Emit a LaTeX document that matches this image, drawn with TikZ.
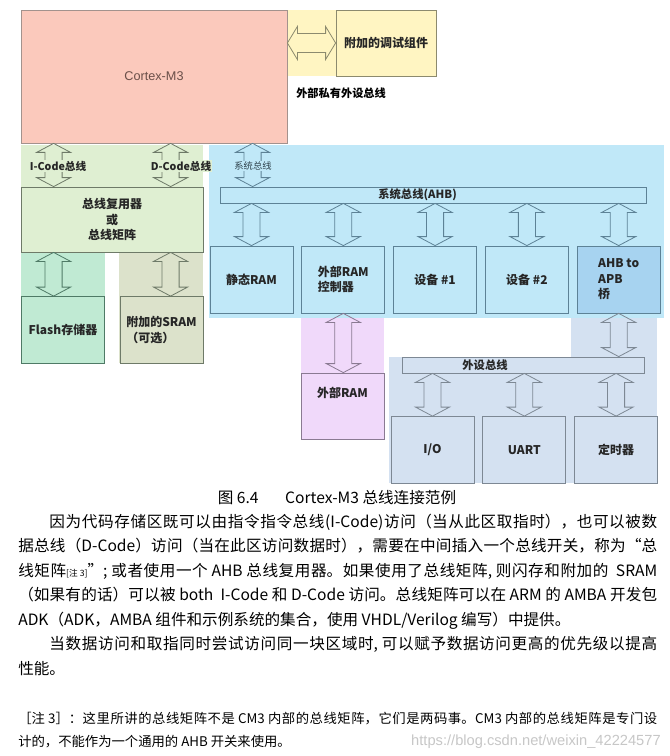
\documentclass[tikz,border=0pt]{standalone}
\usepackage{fontspec}
\setmainfont{Noto Sans CJK SC}
\newfontfamily\arialfont{Liberation Sans}
\XeTeXlinebreaklocale "zh"
\XeTeXlinebreakskip=0pt plus 3pt
\usetikzlibrary{positioning,calc}

\definecolor{cmfill}{HTML}{FBC9BC}
\definecolor{cmedge}{HTML}{A3928D}
\definecolor{cmtext}{HTML}{6A4F49}
\definecolor{dbgfill}{HTML}{FFF5C2}
\definecolor{dbgedge}{HTML}{8C8A6E}
\definecolor{codefill}{HTML}{DFEFD2}
\definecolor{codeedge}{HTML}{6E7A68}
\definecolor{flashfill}{HTML}{C0EAD3}
\definecolor{flashedge}{HTML}{4F7A66}
\definecolor{xsramfill}{HTML}{DCE2CB}
\definecolor{ahbfill}{HTML}{C0E8F8}
\definecolor{ahbedge}{HTML}{5D8296}
\definecolor{brgfill}{HTML}{A7D3F0}
\definecolor{eramfill}{HTML}{F0D9FA}
\definecolor{eramedge}{HTML}{8A7A92}
\definecolor{apbfill}{HTML}{D4E1F1}
\definecolor{apbedge}{HTML}{7D8894}

% block double arrows between two nodes
\newcommand{\vbus}[3][ahbedge]{%
  \draw[busarrow, draw=#1] let \p1=(#2), \p2=(#3) in
    (\x1,\y1) -- (\x1+12.75pt,\y1-6.75pt) -- (\x1+6.4pt,\y1-6.75pt)
    -- (\x1+6.4pt,\y2+6.75pt) -- (\x1+12.75pt,\y2+6.75pt) -- (\x1,\y2)
    -- (\x1-12.75pt,\y2+6.75pt) -- (\x1-6.4pt,\y2+6.75pt)
    -- (\x1-6.4pt,\y1-6.75pt) -- (\x1-12.75pt,\y1-6.75pt) -- cycle;}
\newcommand{\hbus}[3][dbgedge]{%
  \draw[busarrow, draw=#1] let \p1=(#2), \p2=(#3) in
    (\x1,\y1) -- (\x1+7.5pt,\y1+12.4pt) -- (\x1+7.5pt,\y1+7.1pt)
    -- (\x2-7.5pt,\y1+7.1pt) -- (\x2-7.5pt,\y1+12.4pt) -- (\x2,\y1)
    -- (\x2-7.5pt,\y1-12.4pt) -- (\x2-7.5pt,\y1-7.1pt)
    -- (\x1+7.5pt,\y1-7.1pt) -- (\x1+7.5pt,\y1-12.4pt) -- cycle;}

\begin{document}
\begin{tikzpicture}[x=0.75pt, y=-0.75pt,
    unit/.style={rectangle, draw=#1, line width=0.6pt, minimum width=62.25pt, minimum height=50.25pt, inner sep=1pt, align=left, text=black!85, font=\bfseries\fontsize{9}{11.6}\selectfont},
    unit/.default=ahbedge,
    busbar/.style={rectangle, draw=#1, line width=0.6pt, minimum height=12pt, inner sep=0pt},
    barlabel/.style={font=\bfseries\fontsize{8.5}{10}\selectfont, text=black!85},
    buslabel/.style={inner sep=0.6pt, text=black!85},
    busarrow/.style={line width=0.6pt, line join=miter},
    bodytext/.style={inner sep=0pt, text width=479.25pt, align=justify, anchor=base west}
]
    \path[fill=white] (0,0) rectangle (669,756);
    \useasboundingbox (0,0) rectangle (669,756);

    % coloured areas behind the blocks
    \fill[dbgfill] (287,10) rectangle (436,76);
    \fill[codefill] (21,145) rectangle (203,252);
    \fill[flashfill] (21,252) rectangle (105,363);
    \fill[xsramfill] (119,252) rectangle (203,363);
    \fill[ahbfill] (209,145) rectangle (664,318);
    \fill[eramfill] (301,318) rectangle (384,439);
    \fill[apbfill] (571,318) rectangle (657,357);
    \fill[apbfill] (389,357) rectangle (657,483);

    \node[rectangle, draw=cmedge, line width=0.6pt, fill=cmfill, minimum width=199.5pt, minimum height=99.75pt,
          text=cmtext, font=\arialfont\fontsize{9.5}{11}\selectfont] (cm3) at (154,76.5) {Cortex-M3};
    \node[unit=dbgedge, fill=dbgfill, minimum width=75pt, minimum height=49.5pt] (dbg) at (386,43) {附加的调试组件};
    \node[anchor=west, inner sep=0pt, font=\bfseries\fontsize{8.4}{10}\selectfont] (ppb) at (296,93) {外部私有外设总线};

    \node[unit=codeedge, fill=codefill, minimum width=136.5pt, minimum height=48.75pt, align=center] (mux) at (112,219.5) {总线复用器\\或\\总线矩阵};
    \node[unit=flashedge, fill=flashfill] (flash) at (63,330) {Flash存储器};
    \node[unit=codeedge, fill=xsramfill] (xsram) at (161.5,330) {附加的SRAM\\（可选）};

    \node[busbar=ahbedge, fill=ahbfill, minimum width=319.5pt,
          label={[barlabel, xshift=-11.6pt]center:系统总线(AHB)}] (ahb) at (433,195) {};
    \node[unit, fill=ahbfill] (sram) at (251.5,279.5) {静态RAM};
    \node[unit, fill=ahbfill, right=6pt of sram] (emc) {外部RAM\\控制器};
    \node[unit, fill=ahbfill, right=6pt of emc] (dev1) {设备 \#1};
    \node[unit, fill=ahbfill, right=6pt of dev1] (dev2) {设备 \#2};
    \node[unit, fill=brgfill, right=6pt of dev2] (brg) {AHB to\\APB\\桥};

    \node[unit=eramedge, fill=eramfill, minimum height=49.5pt, text height=7pt, text depth=20pt] (eram) at (342.5,406) {外部RAM};

    \node[busbar=apbedge, fill=apbfill, minimum width=181.5pt,
          label={[barlabel, xshift=-28.5pt]center:外设总线}] (apb) at (523,365) {};
    \node[unit=apbedge, fill=apbfill] (io) at (432.5,450) {I/O};
    \node[unit=apbedge, fill=apbfill, right=6pt of io] (uart) {UART};
    \node[unit=apbedge, fill=apbfill, right=6pt of uart] (tmr) {定时器};

    % buses
    \hbus{cm3.east |- dbg.west}{dbg.west}
    \vbus[codeedge]{$(cm3.south west)+(33,0)$}{mux.north}
    \vbus[codeedge]{$(cm3.south west)+(150,0)$}{mux.north}
    \vbus{$(cm3.south west)+(232,0)$}{ahb.north}
    \vbus[flashedge]{$(mux.south west)+(33,0)$}{flash.north}
    \vbus[codeedge]{$(mux.south west)+(150,0)$}{xsram.north}
    \foreach \dst in {sram,emc,dev1,dev2,brg}
        {\vbus{ahb.south -| \dst.north}{\dst.north}}
    \vbus[eramedge]{emc.south}{eram.north}
    \vbus[apbedge]{brg.south}{apb.north}
    \foreach \dst in {io,uart,tmr}
        {\vbus[apbedge]{apb.south -| \dst.north}{\dst.north}}

    \node[buslabel, fill=codefill, font=\bfseries\fontsize{8}{9}\selectfont] (icode) at (58,166) {I-Code总线};
    \node[buslabel, fill=codefill, font=\bfseries\fontsize{8}{9}\selectfont] (dcode) at (181,166) {D-Code总线};
    \node[buslabel, fill=ahbfill, font=\fontsize{7}{8}\selectfont, text=ahbedge!50!black] (sysbus) at (253,166) {系统总线};

    % caption and text below the figure
    \node[anchor=base, inner sep=0pt, font=\fontsize{11.7}{14}\selectfont] (cap) at (337,503) {图 6.4\hspace{1.7em}Cortex-M3 总线连接范例};
    \node[bodytext, font=\fontsize{11.7}{18.4}\selectfont] (para) at (18,527) {%
\hspace*{2em}因为代码存储区既可以由指令指令总线(I-Code)访问（当从此区取指时），也可以被数\linebreak
据总线（D-Code）访问（当在此区访问数据时），需要在中间插入一个总线开关，称为“总\linebreak
线矩阵{\fontsize{6.5}{7}\selectfont [注 3]}”; 或者使用一个 AHB 总线复用器。如果使用了总线矩阵, 则闪存和附加的\ \ SRAM\linebreak
（如果有的话）可以被 both\ \ I-Code 和 D-Code 访问。总线矩阵可以在 ARM 的 AMBA 开发包\linebreak
ADK（ADK，AMBA 组件和示例系统的集合，使用 VHDL/Verilog 编写）中提供。\par
\hspace*{2em}当数据访问和取指同时尝试访问同一块区域时, 可以赋予数据访问更高的优先级以提高\linebreak
性能。};
    \node[bodytext, font=\fontsize{10}{17.25}\selectfont] (note) at (18,723) {%
［注 3］：这里所讲的总线矩阵不是 CM3 内部的总线矩阵，它们是两码事。CM3 内部的总线矩阵是专门设\linebreak
计的，不能作为一个通用的 AHB 开关来使用。};
    \node[anchor=base east, inner sep=0pt, text=black!22, font=\arialfont\fontsize{11}{13}\selectfont] (mark) at (661,745) {https://blog.csdn.net/weixin\_42224577};
\end{tikzpicture}
\end{document}
